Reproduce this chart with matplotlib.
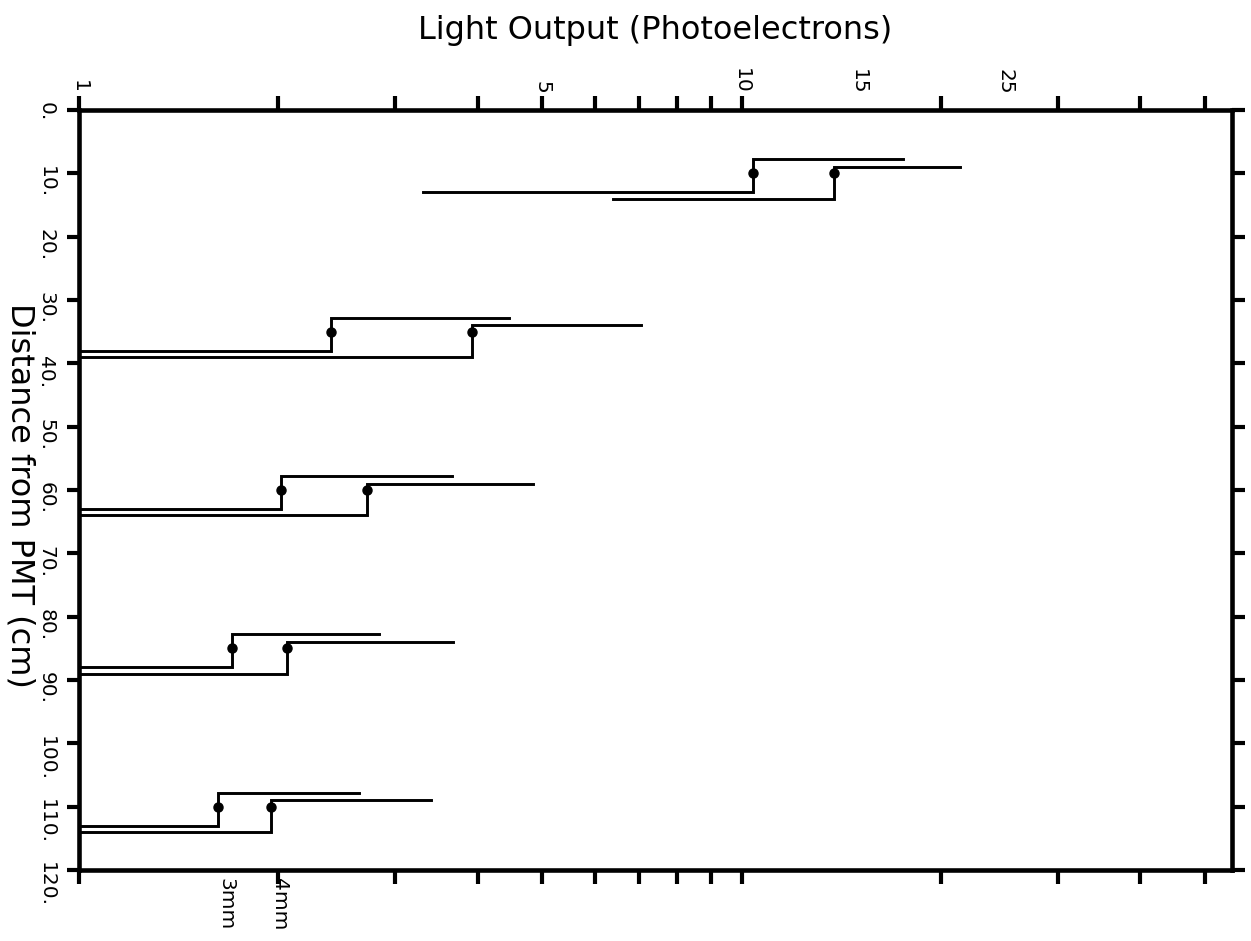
import matplotlib
matplotlib.use("Agg")
import matplotlib.pyplot as plt
from matplotlib.ticker import FixedLocator, FixedFormatter

plt.rcParams['font.family'] = ['DejaVu Sans']

# ---- data ----
distances = [10, 35, 60, 85, 110]            # cm from PMT
fibers = ["3mm", "4mm"]
mean_3mm = [10.4, 2.40, 2.02, 1.70, 1.62]     # photoelectrons
upper_3mm = [17.5, 4.45, 3.66, 2.84, 2.65]
lower_3mm = [3.3, 1.0, 1.0, 1.0, 1.0]
mean_4mm = [13.8, 3.92, 2.72, 2.06, 1.95]
upper_4mm = [21.4, 7.06, 4.85, 3.67, 3.40]
lower_4mm = [6.4, 1.0, 1.0, 1.0, 1.0]
# vertical extent of each step (cm, relative to the measured distance)
top_offset = {"3mm": -2.2, "4mm": -1.0}
bottom_offset = {"3mm": 3.0, "4mm": 4.0}

x_major = [1, 2, 3, 4, 5, 6, 7, 8, 9, 10, 20, 30, 40, 50]
x_major_labels = ["1", "", "", "", "5", "", "", "", "", "10", "", "", "", ""]
x_minor = [15, 25]
x_minor_labels = ["15", "25"]
y_ticks = list(range(0, 121, 10))
y_tick_labels = [f"{v}." for v in y_ticks]

series = {
    "3mm": (mean_3mm, upper_3mm, lower_3mm),
    "4mm": (mean_4mm, upper_4mm, lower_4mm),
}

W, H = 1251, 941
fig = plt.figure(figsize=(W / 100, H / 100), dpi=100)
ax = fig.add_axes([79 / W, 1 - 870 / H, (1232 - 79) / W, (870 - 110) / H])

for f in fibers:
    mean, upper, lower = series[f]
    for d, m, u, lo in zip(distances, mean, upper, lower):
        t = d + top_offset[f]
        b = d + bottom_offset[f]
        ax.plot([u, m, m, lo], [t, t, b, b], color="black", lw=2.1,
                solid_joinstyle="miter", clip_on=True)
        ax.plot([m], [d], "o", color="black", ms=6.5)

ax.set_xscale("log")
ax.set_xlim(1, 55)
ax.set_ylim(120, 0)

ax.xaxis.set_major_locator(FixedLocator(x_major))
ax.xaxis.set_major_formatter(FixedFormatter(x_major_labels))
ax.xaxis.set_minor_locator(FixedLocator(x_minor))
ax.xaxis.set_minor_formatter(FixedFormatter(x_minor_labels))
ax.set_yticks(y_ticks)
ax.set_yticklabels(y_tick_labels)

ax.tick_params(axis="x", which="major", direction="out", length=10, width=3,
               top=True, bottom=True, labeltop=True, labelbottom=False,
               labelsize=14.5, labelrotation=270, pad=2)
ax.tick_params(axis="x", which="minor", length=0, top=True, bottom=False,
               labeltop=True, labelbottom=False, labelsize=14.5,
               labelrotation=270, pad=11)
ax.tick_params(axis="y", direction="out", length=9, width=3,
               left=True, right=True, labelleft=True, labelright=False,
               labelsize=14.5, labelrotation=270, pad=8)
for lab in ax.get_xticklabels(which="both"):
    lab.set_va("bottom")
    lab.set_ha("center")

for s in ax.spines.values():
    s.set_linewidth(3.3)

fig.text(655 / W, 1 - 30 / H, "Light Output (Photoelectrons)", ha="center",
         va="center", fontsize=23)
fig.text(20 / W, 1 - 495 / H, "Distance from PMT (cm)", ha="center",
         va="center", rotation=270, fontsize=23)

# series labels under the bottom axis
for f in fibers:
    mean = series[f][0]
    ax.annotate(f, xy=(mean[-1], 120), xycoords="data",
                xytext=(6, -6), textcoords="offset points",
                rotation=270, ha="center", va="top", fontsize=14.5,
                annotation_clip=False)

fig.savefig("out.png", dpi=100, facecolor="white")
